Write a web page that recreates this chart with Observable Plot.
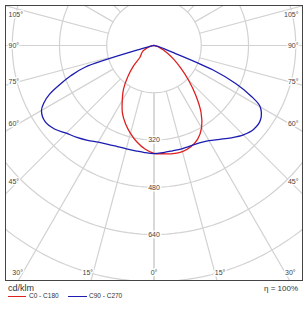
<!DOCTYPE html>
<html>
<head>
<meta charset="utf-8">
<script src="https://cdn.jsdelivr.net/npm/d3@7"></script>
<script src="https://cdn.jsdelivr.net/npm/@observablehq/plot@0.6"></script>
<style>
  html, body { margin: 0; padding: 0; background: #fff; }
  #wrap { position: relative; width: 308px; height: 309px; font-family: "Liberation Sans", Arial, sans-serif; color: #333; }
  #chart svg { display: block; }
  .leg { position: absolute; white-space: nowrap; line-height: 1; }
  .sw { position: absolute; height: 0; border-top: 1.5px solid; }
</style>
</head>
<body>
<div id="wrap">
  <div id="chart"></div>
</div>
<script>
// ---- data (cd/klm) ----
const angles = [0, 5, 10, 15, 20, 25, 30, 35, 40, 45, 50, 55, 60, 62.5, 65, 67.5, 70, 72.5, 75, 77.5, 80, 85, 90];
const c0   = [365, 368, 372, 372, 365, 350, 322, 278, 220, 165, 117, 82, 54, 42, 32, 25, 19, 14, 10, 7, 5, 2, 0];
const c180 = [365, 352, 332, 308, 282, 253, 215, 180, 138, 98, 62, 53, 47, 43, 38, 32, 26, 20, 15, 11, 8, 3, 0];
const c90  = [366, 364, 362, 362, 362, 364, 372, 388, 408, 428, 441, 440, 415, 370, 305, 215, 70, 35, 18, 10, 6, 2, 0];
const c270 = [366, 364, 362, 362, 364, 369, 378, 392, 406, 420, 440, 450, 440, 420, 390, 345, 300, 245, 45, 18, 10, 4, 0];
const ringValues = [160, 320, 480, 640, 800, 960];
const ringLabels = [320, 480, 640];
const rayAngles = [0, 15, 30, 45, 60, 75, 90, 105, 120, 135, 150, 165, 180];
const sideLabelAngles = [45, 60, 75, 90, 105];
const bottomLabelAngles = [15, 30];
const seriesNames = ["C0 - C180", "C90 - C270"];
const seriesColors = ["#dd2020", "#1c1cb0"];
const efficiency = "η = 100%";
const unitLabel = "cd/klm";

// ---- geometry / layout ----
const W = 308, H = 283;
const fL = 5, fR = 302, fT = 5, fB = 280;
const cx = 153.5, cy = 45;
const k = 47.25 / 160; // px per cd/klm
const rad = d => d * Math.PI / 180;
const xDom = [(fL - cx) / k, (fR - cx) / k];
const yDom = [(fB - cy) / k, (fT - cy) / k];

// build tables
function side(vals, sign, series) {
  return angles.map((a, i) => ({a, v: vals[i], x: sign * vals[i] * Math.sin(rad(a)), y: vals[i] * Math.cos(rad(a)), series}));
}
const redPts = [...side(c180, -1, seriesNames[0]).reverse(), ...side(c0, 1, seriesNames[0]).slice(1)];
const bluePts = [...side(c270, -1, seriesNames[1]).reverse(), ...side(c90, 1, seriesNames[1]).slice(1)];

const circles = [];
for (const r of ringValues) for (let t = 0; t <= 360; t += 2) circles.push({r, x: r * Math.sin(rad(t)), y: r * Math.cos(rad(t))});

const rays = [];
for (const a of rayAngles) for (const s of [-1, 1]) rays.push({
  x1: s * 160 * Math.sin(rad(a)), y1: 160 * Math.cos(rad(a)),
  x2: s * 1400 * Math.sin(rad(a)), y2: 1400 * Math.cos(rad(a))
});

const dSide = 136 / k;
const yMin = (14 - cy) / k;
const sideLabels = [];
for (const a of sideLabelAngles) {
  const yv = Math.max(dSide * Math.cos(rad(a)) / Math.sin(rad(a)), yMin);
  sideLabels.push({t: a + "°", x: (8 - cx) / k, y: yv, anchor: "start"});
  sideLabels.push({t: a + "°", x: (298 - cx) / k, y: yv, anchor: "end"});
}
const yBot = (272 - cy) / k;
const bottomLabels = [{t: "0°", x: 0, y: yBot, anchor: "middle", dx: 0}];
for (const a of bottomLabelAngles) {
  bottomLabels.push({t: a + "°", x: -yBot * Math.tan(rad(a)), y: yBot, anchor: "end", dx: 0});
  bottomLabels.push({t: a + "°", x: yBot * Math.tan(rad(a)), y: yBot, anchor: "start", dx: 1});
}

const font = "Liberation Sans, Arial, sans-serif";
const gridColor = "#d2d2d2";
const labelColor = "#444";

const chart = Plot.plot({
  width: W, height: H,
  marginLeft: fL, marginRight: W - fR, marginTop: fT, marginBottom: H - fB,
  x: {domain: xDom, axis: null},
  y: {domain: yDom, axis: null},
  style: {background: "white", fontFamily: font},
  marks: [
    Plot.line(circles, {x: "x", y: "y", z: "r", stroke: gridColor, strokeWidth: 1.2, clip: true}),
    Plot.link(rays, {x1: "x1", y1: "y1", x2: "x2", y2: "y2", stroke: gridColor, strokeWidth: 1.2, clip: true}),
    Plot.text(ringLabels, {x: () => 0, y: d => d, text: d => String(d), fill: labelColor, stroke: "white", strokeWidth: 3, fontSize: 7, fontFamily: font}),
    Plot.text(sideLabels.filter(d => d.anchor === "start"), {x: "x", y: "y", text: "t", textAnchor: "start", fill: labelColor, stroke: "white", strokeWidth: 3, fontSize: 7, fontFamily: font}),
    Plot.text(sideLabels.filter(d => d.anchor === "end"), {x: "x", y: "y", text: "t", textAnchor: "end", fill: labelColor, stroke: "white", strokeWidth: 3, fontSize: 7, fontFamily: font}),
    Plot.text(bottomLabels.filter(d => d.anchor === "middle"), {x: "x", y: "y", text: "t", textAnchor: "middle", fill: labelColor, stroke: "white", strokeWidth: 3, fontSize: 7, fontFamily: font}),
    Plot.text(bottomLabels.filter(d => d.anchor === "end"), {x: "x", y: "y", text: "t", textAnchor: "end", fill: labelColor, stroke: "white", strokeWidth: 3, fontSize: 7, fontFamily: font}),
    Plot.text(bottomLabels.filter(d => d.anchor === "start"), {x: "x", y: "y", text: "t", textAnchor: "start", fill: labelColor, stroke: "white", strokeWidth: 3, fontSize: 7, fontFamily: font}),
    Plot.line(redPts, {x: "x", y: "y", stroke: seriesColors[0], strokeWidth: 1.3, curve: "catmull-rom", clip: true}),
    Plot.line(bluePts, {x: "x", y: "y", stroke: seriesColors[1], strokeWidth: 1.3, curve: "catmull-rom", clip: true}),
    Plot.frame({stroke: "#444", strokeWidth: 1})
  ]
});
document.getElementById("chart").appendChild(chart);

// legend below the svg
const wrap = document.getElementById("wrap");
function addText(txt, left, top, size, extra) {
  const el = document.createElement("div");
  el.className = "leg";
  el.textContent = txt;
  el.style.left = left + "px";
  el.style.top = top + "px";
  el.style.fontSize = size + "px";
  if (extra) Object.assign(el.style, extra);
  wrap.appendChild(el);
  return el;
}
function addSwatch(color, left, width, top) {
  const el = document.createElement("div");
  el.className = "sw";
  el.style.left = left + "px";
  el.style.width = width + "px";
  el.style.top = top + "px";
  el.style.borderTopColor = color;
  wrap.appendChild(el);
}
addText(unitLabel, 8, 284, 9);
addSwatch(seriesColors[0], 8, 18, 296);
addText(seriesNames[0], 29, 293, 6.5);
addSwatch(seriesColors[1], 68, 19, 296);
addText(seriesNames[1], 89, 293, 6.5);
addText(efficiency, 0, 285, 8, {left: "auto", right: "10px"});
</script>
</body>
</html>
